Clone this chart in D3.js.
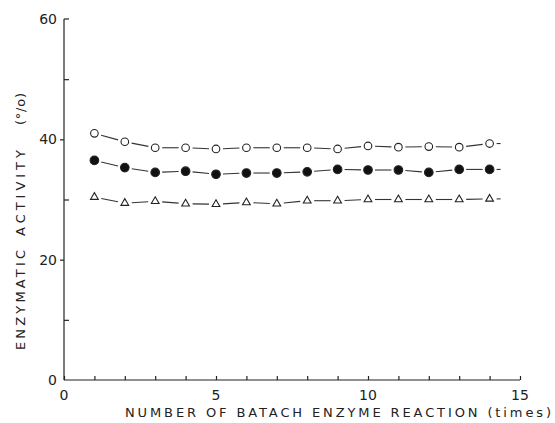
<!DOCTYPE html>
<meta charset="utf-8">
<head>
	<title>Batch enzyme reaction</title>
	<script type="text/javascript" src="https://cdn.jsdelivr.net/npm/d3@7"></script>
	<style>
		body { margin: 0; background: #fff; }
		text { font-family: "DejaVu Sans", sans-serif; fill: #222; }
		.axis path, .axis line { stroke: #222; stroke-width: 1.2; }
		.lbl { font-size: 13px; }
	</style>
</head>
<body>
	<div id="chart"></div>
	<script>
		// data
		var runs = [1,2,3,4,5,6,7,8,9,10,11,12,13,14];
		var openCircle = [41.0,39.6,38.6,38.6,38.4,38.6,38.6,38.6,38.4,38.9,38.7,38.8,38.7,39.3];
		var filledCircle = [36.5,35.3,34.5,34.7,34.2,34.4,34.4,34.6,35.0,34.9,34.9,34.5,35.0,35.0];
		var triangle = [30.4,29.4,29.7,29.3,29.2,29.5,29.3,29.8,29.8,30.0,30.0,30.0,30.0,30.1];
		var xTicks = [0,5,10,15];
		var yTicks = [0,20,40,60];
		var yTitleWords = ["ENZYMATIC", "ACTIVITY", "(°/o)"];

		var margin = {top: 19, right: 35, bottom: 43, left: 64}
		  , width = 555 - margin.left - margin.right
		  , height = 423 - margin.top - margin.bottom;

		var svg = d3.select("#chart").append("svg")
			.attr("width", 555)
			.attr("height", 423)
			.append("g")
			.attr("transform", "translate(" + margin.left + "," + margin.top + ")");

		var x = d3.scaleLinear().domain([0,15]).range([0,width]);
		var y = d3.scaleLinear().domain([0,60]).range([height,0]);

		// x axis: minor ticks every run pointing up, labels below
		var xAxis = svg.append("g").attr("class","axis")
			.attr("transform","translate(0," + height + ")")
			.call(d3.axisBottom(x).tickValues(d3.range(0,16)).tickSize(-4).tickFormat(""));
		xAxis.select(".domain").remove();
		xAxis.append("line").attr("x1",0).attr("x2",x(15)).attr("stroke","#222").attr("stroke-width",1.2);
		svg.selectAll(".xl").data(xTicks).enter().append("text")
			.attr("x", function(d){ return x(d); })
			.attr("y", height + 20)
			.attr("text-anchor","middle")
			.style("font-size","14px")
			.text(function(d){ return d; });

		// y axis
		var yAxis = svg.append("g").attr("class","axis")
			.call(d3.axisRight(y).tickValues([10,30,50]).tickSize(5).tickFormat(""));
		yAxis.select(".domain").remove();
		yAxis.append("line").attr("y1",y(0)).attr("y2",y(60)).attr("stroke","#222").attr("stroke-width",1.2);
		svg.append("g").attr("class","axis")
			.call(d3.axisRight(y).tickValues([20,40]).tickSize(-4).tickFormat(""))
			.select(".domain").remove();
		svg.append("line").attr("x1",0).attr("x2",5).attr("y1",y(60)).attr("y2",y(60))
			.attr("stroke","#222").attr("stroke-width",1.2);
		svg.selectAll(".yl").data(yTicks).enter().append("text")
			.attr("x", -7)
			.attr("y", function(d){ return y(d) + 5; })
			.attr("text-anchor","end")
			.style("font-size","14px")
			.text(function(d){ return d; });

		// axis titles
		var wordSpan = [[250, 350], [150, 236], [93, 125]]; // page y extents of each word
		yTitleWords.forEach(function(w, i) {
			var s = wordSpan[i];
			svg.append("text").attr("class","lbl")
				.attr("transform","translate(-39," + (s[1] - margin.top) + ") rotate(-90)")
				.attr("textLength", s[1] - s[0])
				.attr("lengthAdjust","spacing")
				.text(w);
		});
		svg.append("text").attr("class","lbl")
			.attr("x", 125 - margin.left)
			.attr("y", height + 37)
			.attr("textLength", 426)
			.attr("lengthAdjust","spacing")
			.text("NUMBER OF  BATACH  ENZYME  REACTION  (times)");

		// connecting segments with gaps around markers
		function drawSeries(vals, kind) {
			var pts = runs.map(function(r,i){ return [x(r), y(vals[i])]; });
			var gap = 7;
			for (var i = 0; i < pts.length - 1; i++) {
				var a = pts[i], b = pts[i+1];
				var dx = b[0]-a[0], dy = b[1]-a[1], len = Math.sqrt(dx*dx+dy*dy);
				svg.append("line")
					.attr("x1", a[0] + dx/len*gap).attr("y1", a[1] + dy/len*gap)
					.attr("x2", b[0] - dx/len*gap).attr("y2", b[1] - dy/len*gap)
					.attr("stroke","#333").attr("stroke-width",1.1);
			}
			var last = pts[pts.length-1];
			svg.append("line").attr("x1", last[0]+gap).attr("x2", last[0]+gap+4)
				.attr("y1", last[1]).attr("y2", last[1]).attr("stroke","#333").attr("stroke-width",1.1);

			var g = svg.append("g");
			if (kind === "tri") {
				g.selectAll("path").data(pts).enter().append("path")
					.attr("d", d3.symbol().type(d3.symbolTriangle).size(26))
					.attr("transform", function(d){ return "translate(" + d[0] + "," + d[1] + ")"; })
					.attr("fill","#fff").attr("stroke","#222").attr("stroke-width",1.1);
			} else {
				g.selectAll("circle").data(pts).enter().append("circle")
					.attr("cx", function(d){ return d[0]; })
					.attr("cy", function(d){ return d[1]; })
					.attr("r", kind === "filled" ? 4.3 : 3.8)
					.attr("fill", kind === "filled" ? "#111" : "#fff")
					.attr("stroke","#222").attr("stroke-width",1.1);
			}
		}
		drawSeries(openCircle, "open");
		drawSeries(filledCircle, "filled");
		drawSeries(triangle, "tri");
	</script>
</body>
</html>
